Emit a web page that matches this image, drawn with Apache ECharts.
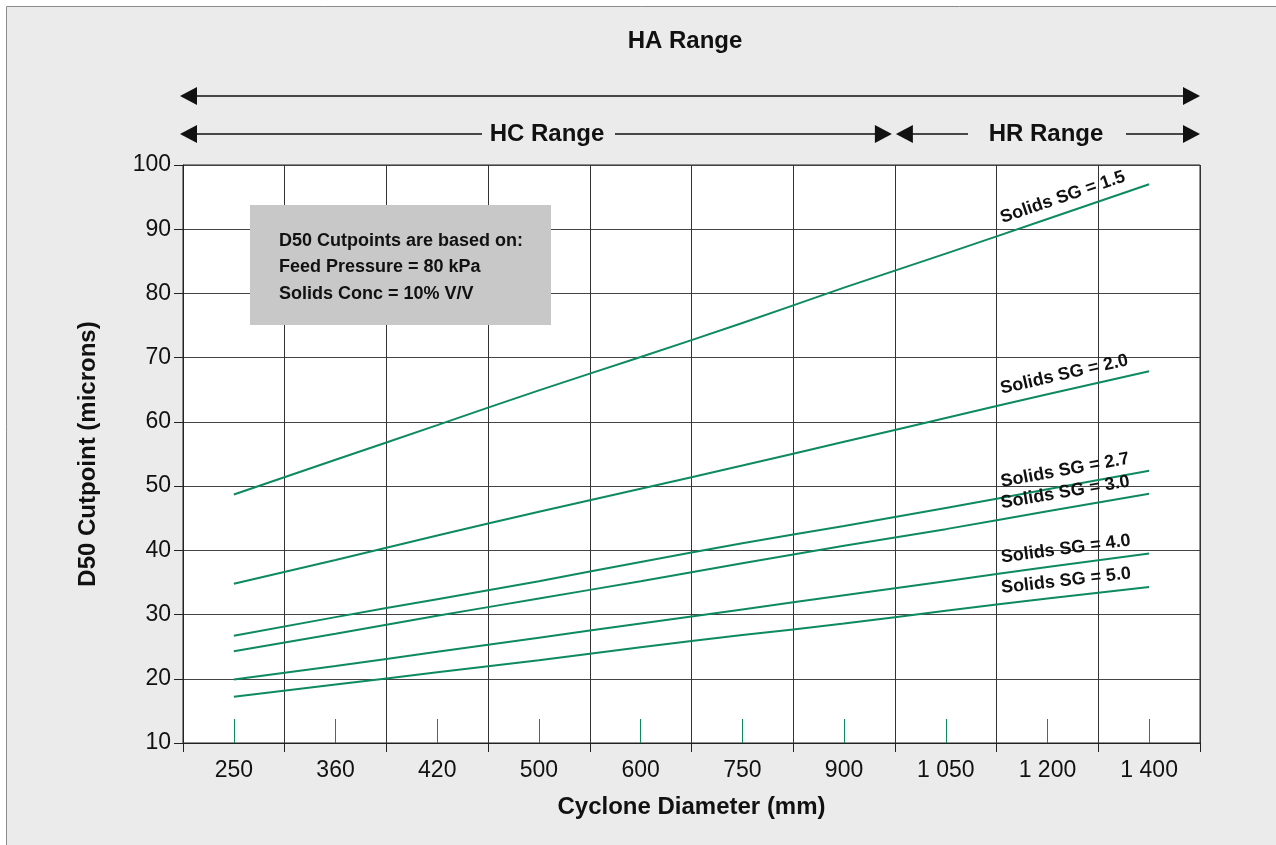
<!DOCTYPE html>
<html>
<head>
<meta charset="utf-8">
<style>
  html, body { margin: 0; padding: 0; background: #fff; }
  #chart { width: 1276px; height: 845px; }
</style>
<script src="https://cdn.jsdelivr.net/npm/echarts@6/dist/echarts.min.js"></script>
</head>
<body>
<div id="chart"></div>
<script>
var diameters = ['250', '360', '420', '500', '600', '750', '900', '1 050', '1 200', '1 400'];

// D50 cutpoint (microns) per cyclone diameter
var sg15 = [48.7, 54.1, 59.5, 64.9, 70.1, 75.4, 80.9, 86.2, 91.6, 97.0];
var sg20 = [34.8, 38.5, 42.3, 46.0, 49.6, 53.2, 56.9, 60.6, 64.3, 67.9];
var sg27 = [26.7, 29.6, 32.4, 35.2, 38.2, 41.1, 43.8, 46.6, 49.5, 52.4];
var sg30 = [24.3, 27.0, 29.8, 32.5, 35.2, 38.0, 40.7, 43.3, 46.1, 48.8];
var sg40 = [19.9, 22.0, 24.2, 26.4, 28.6, 30.8, 33.0, 35.2, 37.4, 39.5];
var sg50 = [17.2, 19.1, 21.0, 22.9, 24.9, 26.8, 28.6, 30.6, 32.5, 34.3];

var sgNames = ['Solids SG = 1.5', 'Solids SG = 2.0', 'Solids SG = 2.7', 'Solids SG = 3.0', 'Solids SG = 4.0', 'Solids SG = 5.0'];
var sgValues = [sg15, sg20, sg27, sg30, sg40, sg50];

var yMin = 10, yMax = 100, yStep = 10;

var notes = ['D50 Cutpoints are based on:', 'Feed Pressure = 80 kPa', 'Solids Conc = 10% V/V'];

var FONT = '"Liberation Sans", Arial, Helvetica, sans-serif';
var GREEN = '#0e8a5f';
var INK = '#111';

var chartDom = document.getElementById('chart');
var chart = echarts.init(chartDom);

var GL = 183, GR = 1200, GT = 165, GB = 743;

var series = sgNames.map(function (name, i) {
  return {
    name: name,
    type: 'line',
    xAxisIndex: 0,
    yAxisIndex: 0,
    data: sgValues[i],
    smooth: 0.5,
    showSymbol: false,
    symbol: 'none',
    lineStyle: { color: GREEN, width: 2 },
    z: 3
  };
});

var option = {
  animation: false,
  textStyle: { fontFamily: FONT },
  grid: {
    left: GL, right: 1276 - GR, top: GT, bottom: 845 - GB,
    show: true, backgroundColor: '#fff', borderColor: '#222', borderWidth: 1
  },
  xAxis: [
    {
      type: 'category',
      position: 'bottom',
      data: diameters,
      boundaryGap: true,
      name: 'Cyclone Diameter (mm)',
      nameLocation: 'middle',
      nameGap: 52,
      nameTextStyle: { fontSize: 24, fontWeight: 'bold', color: INK, fontFamily: FONT },
      axisLine: { lineStyle: { color: '#222', width: 1 } },
      axisTick: { show: true, length: 9, lineStyle: { color: '#222' } },
      axisLabel: { fontSize: 23, color: INK, margin: 16, fontFamily: FONT },
      splitLine: { show: true, lineStyle: { color: '#333', width: 1 } }
    },
    {
      type: 'category',
      position: 'bottom',
      data: diameters,
      boundaryGap: true,
      axisLine: { show: false },
      axisTick: { show: true, inside: true, alignWithLabel: true, length: 24, lineStyle: { color: GREEN, width: 1 } },
      axisLabel: { show: false },
      splitLine: { show: false }
    }
  ],
  yAxis: {
    type: 'value',
    min: yMin,
    max: yMax,
    interval: yStep,
    name: 'D50 Cutpoint (microns)',
    nameLocation: 'middle',
    nameGap: 83,
    nameTextStyle: { fontSize: 24, fontWeight: 'bold', color: INK, fontFamily: FONT },
    axisLine: { show: true, lineStyle: { color: '#222' } },
    axisTick: { show: true, length: 9, lineStyle: { color: '#222' } },
    axisLabel: { fontSize: 23, color: INK, margin: 12, fontFamily: FONT },
    splitLine: { show: true, lineStyle: { color: '#444', width: 1 } }
  },
  series: series
};

chart.setOption(option);

// ---- annotations (range arrows, note box, curve labels) ----
function tri(tipX, y, dir) {
  // dir = -1 points left, 1 points right
  return {
    type: 'polygon',
    shape: { points: [[tipX, y], [tipX - dir * 17, y - 9], [tipX - dir * 17, y + 9]] },
    style: { fill: INK },
    silent: true
  };
}
function seg(x1, x2, y) {
  return { type: 'line', shape: { x1: x1, y1: y, x2: x2, y2: y }, style: { stroke: INK, lineWidth: 1.3 }, silent: true };
}
function label(text, x, y, size) {
  return {
    type: 'text', x: x, y: y, silent: true,
    style: { text: text, font: 'bold ' + size + 'px ' + FONT, fill: INK, align: 'center', verticalAlign: 'middle' }
  };
}

var bandW = (GR - GL) / diameters.length;
var hcEnd = GL + bandW * 7;

var g = [];
g.push({ type: 'rect', z: -10, silent: true, shape: { x: 6.5, y: 6.5, width: 1300, height: 900 }, style: { fill: '#ebebeb', stroke: '#8c8c8c', lineWidth: 1 } });

// HA range
g.push(label('HA Range', 685, 41, 24));
g.push(seg(185, 1195, 96));
g.push(tri(180, 96, -1));
g.push(tri(GR, 96, 1));

// HC range
g.push(label('HC Range', 547, 134, 24));
g.push(seg(185, 482, 134));
g.push(seg(615, hcEnd - 6, 134));
g.push(tri(180, 134, -1));
g.push(tri(hcEnd - 3, 134, 1));

// HR range
g.push(label('HR Range', 1046, 134, 24));
g.push(seg(hcEnd + 5, 968, 134));
g.push(seg(1126, GR - 5, 134));
g.push(tri(hcEnd + 1, 134, -1));
g.push(tri(GR, 134, 1));

// note box
g.push({ type: 'rect', z: 10, silent: true, shape: { x: 250, y: 205, width: 301, height: 120 }, style: { fill: '#c8c8c8' } });
notes.forEach(function (t, i) {
  g.push({
    type: 'text', z: 11, silent: true, x: 279, y: 241 + i * 26.5,
    style: { text: t, font: 'bold 18px ' + FONT, fill: INK, align: 'left', verticalAlign: 'middle' }
  });
});

// curve labels placed along the last segment of each line
sgNames.forEach(function (name, i) {
  var vals = sgValues[i];
  var n = vals.length;
  var p8 = chart.convertToPixel({ xAxisIndex: 0, yAxisIndex: 0 }, [n - 2, vals[n - 2]]);
  var p9 = chart.convertToPixel({ xAxisIndex: 0, yAxisIndex: 0 }, [n - 1, vals[n - 1]]);
  var dx = p9[0] - p8[0], dy = p9[1] - p8[1];
  var len = Math.sqrt(dx * dx + dy * dy);
  var t = 0.2;
  var cx = p8[0] + t * dx + 15.5 * dy / len;
  var cy = p8[1] + t * dy - 15.5 * dx / len;
  g.push({
    type: 'text', z: 12, silent: true, x: cx, y: cy,
    rotation: Math.atan2(-dy, dx),
    style: { text: name, font: 'bold 18px ' + FONT, fill: INK, align: 'center', verticalAlign: 'middle' }
  });
});

chart.setOption({ graphic: g });

window.addEventListener('resize', function () {
  chart.resize();
});
</script>
</body>
</html>
